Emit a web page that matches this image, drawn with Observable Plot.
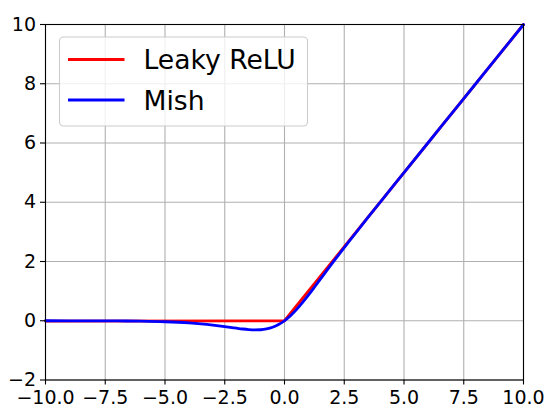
<!DOCTYPE html>
<html><head><meta charset="utf-8">
<script src="https://cdn.jsdelivr.net/npm/d3@7"></script>
<script src="https://cdn.jsdelivr.net/npm/@observablehq/plot@0.6"></script>
<style>
body{margin:0;background:#fff}
#chart{position:relative;width:550px;height:419px}
</style>
</head><body><div id="chart"></div>
<script>
const xTicks = [-10, -7.5, -5, -2.5, 0, 2.5, 5, 7.5, 10];
const yTicks = [-2, 0, 2, 4, 6, 8, 10];

const leakyX = [-10, 0, 10];
const leakyY = [-0.01, 0, 10];

const mishX = [-10, -8, -7, -6, -5, -4, -3.5, -3, -2.75, -2.5, -2.25, -2, -1.75, -1.5, -1.25, -1, -0.75, -0.5, -0.25, 0,
  0.25, 0.5, 0.75, 1, 1.25, 1.5, 1.75, 2, 2.25, 2.5, 2.75, 3, 3.5, 4, 4.5, 5, 6, 7, 8, 9, 10];
const mishY = [-0.0005, -0.0027, -0.0064, -0.0149, -0.0336, -0.0726, -0.1041, -0.1456, -0.1702, -0.1968, -0.2247, -0.2525, -0.2780, -0.2981, -0.3084, -0.3034, -0.2765, -0.2207, -0.1299, 0,
  0.1696, 0.3752, 0.6100, 0.8651, 1.1319, 1.4031, 1.6749, 1.9439, 2.2095, 2.4713, 2.7302, 2.9865, 3.4940, 3.9974, 4.4989, 4.9995, 6.0, 7.0, 8.0, 9.0, 10.0];

const seriesNames = ["Leaky ReLU", "Mish"];
const seriesColors = ["#ff0000", "#0000ff"];

const leaky = leakyX.map((x, i) => ({x, y: leakyY[i]}));
const mish = mishX.map((x, i) => ({x, y: mishY[i]}));

const font = "DejaVu Sans, sans-serif";

const svg = Plot.plot({
  width: 550,
  height: 419,
  marginLeft: 45,
  marginRight: 27,
  marginTop: 24,
  marginBottom: 39.5,
  style: {fontFamily: font, fontSize: "19px", background: "#fff", color: "#000", overflow: "visible"},
  x: {domain: [-10, 10]},
  y: {domain: [-2, 10]},
  marks: [
    Plot.gridX(xTicks, {stroke: "#b0b0b0", strokeOpacity: 1, strokeWidth: 1.1}),
    Plot.gridY(yTicks, {stroke: "#b0b0b0", strokeOpacity: 1, strokeWidth: 1.1}),
    Plot.line(leaky, {x: "x", y: "y", stroke: seriesColors[0], strokeWidth: 2.8}),
    Plot.line(mish, {x: "x", y: "y", stroke: seriesColors[1], strokeWidth: 2.8, curve: "monotone-x"}),
    Plot.frame({stroke: "#000", strokeWidth: 1.1}),
    Plot.axisX(xTicks, {tickFormat: d3.format(".1f"), tickSize: 5, tickPadding: 5.5, fontSize: 19, label: null, stroke: "#000", strokeWidth: 1.1, fill: "#000"}),
    Plot.axisY(yTicks, {tickFormat: d3.format("d"), tickSize: 5, tickPadding: 4.5, fontSize: 19, label: null, stroke: "#000", strokeWidth: 1.1, fill: "#000"})
  ]
});

// legend (matplotlib style, upper left)
const s = d3.select(svg);
const lg = s.append("g").attr("font-family", font).attr("font-size", 26.6).attr("text-anchor", "start");
lg.append("rect")
  .attr("x", 59.5).attr("y", 37).attr("width", 248).attr("height", 89)
  .attr("rx", 4).attr("ry", 4)
  .attr("fill", "#fff").attr("fill-opacity", 0.8)
  .attr("stroke", "#cccccc").attr("stroke-width", 1.1);
const rowY = [59.5, 100];
seriesNames.forEach((name, i) => {
  lg.append("line")
    .attr("x1", 68).attr("x2", 124.5)
    .attr("y1", rowY[i]).attr("y2", rowY[i])
    .attr("stroke", seriesColors[i]).attr("stroke-width", 2.8);
  lg.append("text")
    .attr("x", 143.5).attr("y", rowY[i] + 9.8)
    .attr("fill", "#000")
    .attr("text-anchor", "start")
    .text(name);
});

document.getElementById("chart").appendChild(svg);
</script>
</body></html>
